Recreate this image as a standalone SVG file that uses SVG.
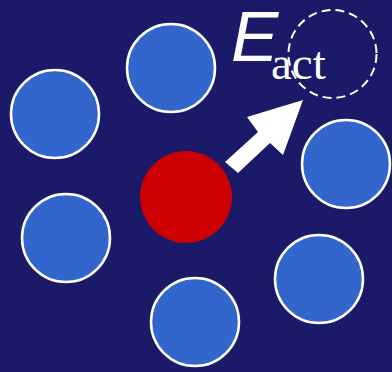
<svg xmlns="http://www.w3.org/2000/svg" width="392" height="372" viewBox="0 0 392 372">
<style>
.atom{fill:#3366cc;stroke:#ffffff;stroke-width:2.5}
.lbl{fill:#ffffff}
</style>
<rect width="392" height="372" fill="#1b1a68"/>
<g id="atom-top"><circle class="atom" cx="171" cy="68" r="44"/></g>
<g id="atom-left"><circle class="atom" cx="55" cy="114" r="44"/></g>
<g id="atom-right"><circle class="atom" cx="346" cy="164" r="44"/></g>
<g id="atom-left-bottom"><circle class="atom" cx="66" cy="238" r="44"/></g>
<g id="atom-right-bottom"><circle class="atom" cx="319" cy="279" r="44"/></g>
<g id="atom-bottom"><circle class="atom" cx="195" cy="322" r="44"/></g>
<g id="atom-center"><circle cx="186" cy="197" r="46" fill="#cc0000"/></g>
<g id="vacancy"><circle cx="332.5" cy="54" r="44" fill="none" stroke="#ffffff" stroke-width="2" stroke-dasharray="9 5"/></g>
<g id="connectors">
<polygon points="225,162 258,132 247,117 303,100 283,155 270,143 238,173" fill="#ffffff"/>
</g>
<g id="label">
<text x="231" y="61" class="lbl" font-family="Liberation Sans, Arial, sans-serif" font-style="italic" font-size="71">E</text>
<text x="271" y="79" class="lbl" font-family="Liberation Serif, Times New Roman, serif" font-size="47">act</text>
</g>
</svg>
